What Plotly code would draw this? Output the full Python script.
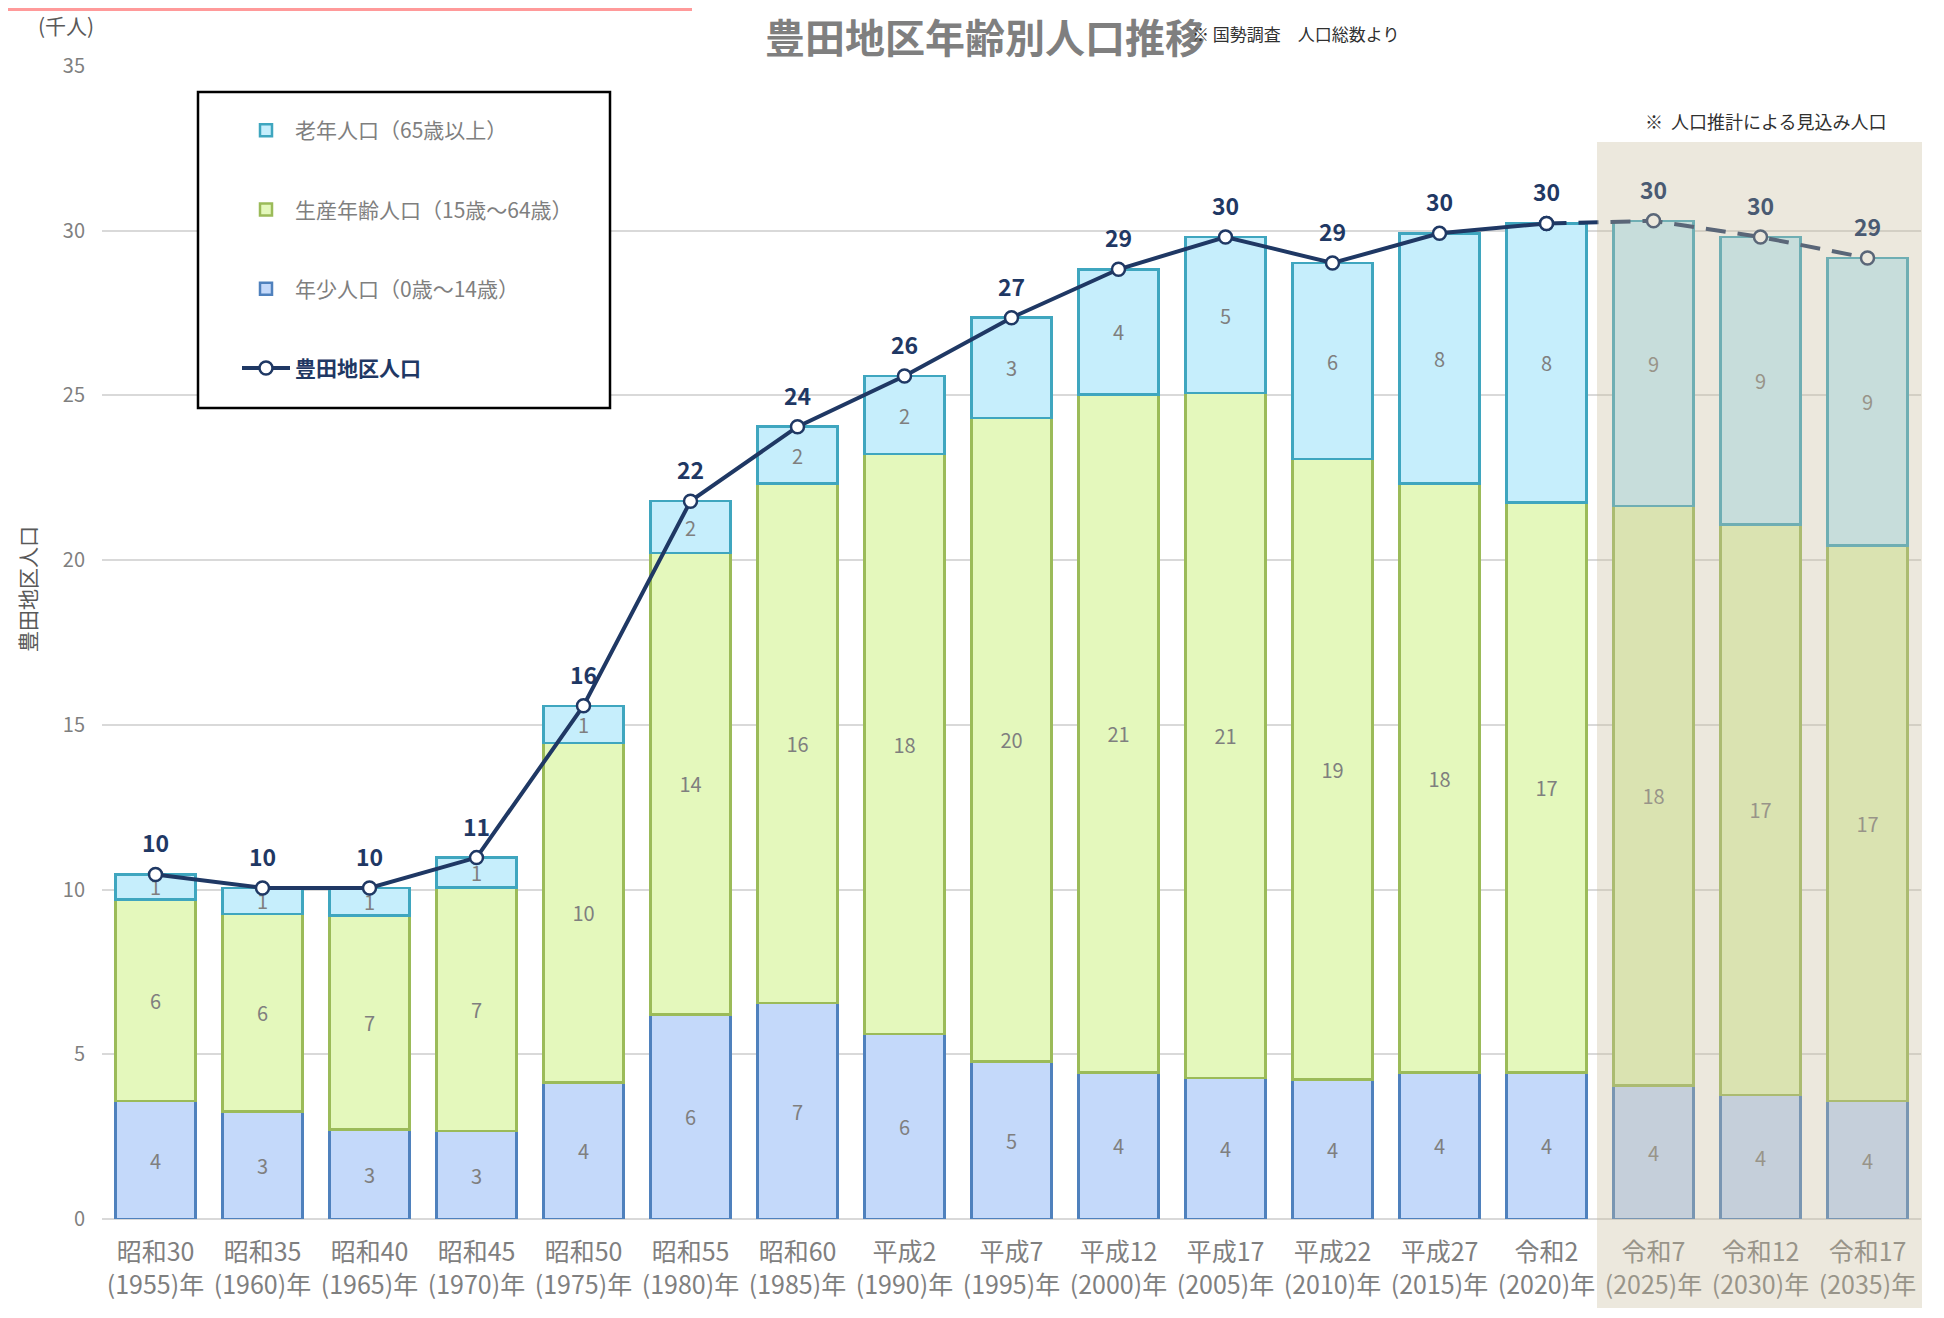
import plotly.graph_objects as go

# 豊田地区 年齢別人口（千人）
categories = [
    "昭和30<br>(1955)年", "昭和35<br>(1960)年", "昭和40<br>(1965)年", "昭和45<br>(1970)年",
    "昭和50<br>(1975)年", "昭和55<br>(1980)年", "昭和60<br>(1985)年", "平成2<br>(1990)年",
    "平成7<br>(1995)年", "平成12<br>(2000)年", "平成17<br>(2005)年", "平成22<br>(2010)年",
    "平成27<br>(2015)年", "令和2<br>(2020)年", "令和7<br>(2025)年", "令和12<br>(2030)年",
    "令和17<br>(2035)年",
]
young = [3.58, 3.27, 2.71, 2.67, 4.14, 6.21, 6.55, 5.61, 4.78, 4.44, 4.28, 4.24, 4.44, 4.44, 4.06, 3.76, 3.58]
working = [6.12, 5.99, 6.51, 7.40, 10.31, 14.00, 15.77, 17.61, 19.53, 20.59, 20.79, 18.83, 17.88, 17.31, 17.58, 17.32, 16.86]
elderly = [0.76, 0.79, 0.83, 0.90, 1.13, 1.58, 1.73, 2.37, 3.05, 3.80, 4.74, 5.95, 7.60, 8.47, 8.66, 8.73, 8.73]
total = [round(a + b + c, 2) for a, b, c in zip(young, working, elderly)]
last_census = 13  # 令和2(2020)まで実績、以降は推計

FONT = "Noto Sans CJK JP"
NAVY = "#1F3864"
GREY = "#7F7F7F"

# ページ余白(8px)を差し引いたサイズ
OFF = 8
W, H = 1944 - 2 * OFF, 1318 - 2 * OFF
L, R, T, B = 94, 15, 58, 91


def px_x(x):
    return (x - OFF - L) / (W - L - R)


def px_y(y):
    return (H - B - (y - OFF)) / (H - T - B)


fig = go.Figure()

bar_style = [
    ("年少人口（0歳～14歳）", young, "#C4D9FA", "#4F81BD", 3),
    ("生産年齢人口（15歳～64歳）", working, "#E4F8BC", "#9BBB59", 2),
    ("老年人口（65歳以上）", elderly, "#C6EEFC", "#3FA6BF", 1),
]
for name, vals, fill, edge, rank in bar_style:
    fig.add_trace(go.Bar(
        x=categories, y=vals, name=name,
        marker=dict(color=fill, line=dict(color=edge, width=2.5)),
        texttemplate="%{y:.0f}", textposition="inside", textangle=0,
        insidetextanchor="middle", constraintext="none",
        textfont=dict(size=20, color=GREY, family=FONT),
        legendgroup=name, legendrank=rank,
    ))

fig.add_trace(go.Scatter(
    x=categories[:last_census + 1], y=total[:last_census + 1],
    name="<b><span style='color:%s'>豊田地区人口</span></b>" % NAVY,
    mode="lines+markers",
    line=dict(color=NAVY, width=4),
    marker=dict(size=13, color="white", line=dict(color=NAVY, width=2.5)),
    legendgroup="total", legendrank=4,
))
fig.add_trace(go.Scatter(
    x=categories[last_census:], y=total[last_census:],
    mode="lines+markers",
    line=dict(color=NAVY, width=4, dash="20px,12px"),
    marker=dict(size=13, color="white", line=dict(color=NAVY, width=2.5)),
    showlegend=False,
))

# 合計ラベル
for i, (c, v) in enumerate(zip(categories, total)):
    fig.add_annotation(x=c, y=v, text=f"<b>{v:.0f}</b>", showarrow=False,
                       yshift=32, yanchor="middle",
                       font=dict(size=23, family=FONT,
                                 color=NAVY if i <= last_census else "#4A5A72"))

# 推計期間の網掛け
fig.add_shape(type="rect", xref="paper", yref="paper",
              x0=px_x(1597), x1=px_x(1922), y0=px_y(1308), y1=px_y(142),
              fillcolor="rgba(201,189,158,0.35)", line=dict(width=0), layer="above")
# 凡例の枠
fig.add_shape(type="rect", xref="paper", yref="paper",
              x0=px_x(198), x1=px_x(610), y0=px_y(408), y1=px_y(92),
              fillcolor="white", line=dict(color="black", width=2.5), layer="above")
# 上部のピンク帯
fig.add_shape(type="rect", xref="paper", yref="paper",
              x0=px_x(8), x1=px_x(692), y0=px_y(11), y1=px_y(8),
              fillcolor="#FF9A9A", line=dict(width=0), layer="above")

fig.add_annotation(text="<b>豊田地区年齢別人口推移</b>", xref="paper", yref="paper",
                   x=px_x(1207), y=px_y(36), xanchor="right", yanchor="middle",
                   showarrow=False, font=dict(size=40, color=GREY, family=FONT))
fig.add_annotation(text="※ 国勢調査　人口総数より", xref="paper", yref="paper",
                   x=px_x(1190), y=px_y(33), xanchor="left", yanchor="middle",
                   showarrow=False, font=dict(size=17, color="#303030", family=FONT))
fig.add_annotation(text="(千人)", xref="paper", yref="paper",
                   x=px_x(66), y=px_y(25), xanchor="center", yanchor="middle",
                   showarrow=False, font=dict(size=21, color="#595959", family=FONT))
fig.add_annotation(text="豊田地区人口", xref="paper", yref="paper", textangle=-90,
                   x=px_x(27), y=px_y(589), xanchor="center", yanchor="middle",
                   showarrow=False, font=dict(size=21, color="#595959", family=FONT))
fig.add_annotation(text="※  人口推計による見込み人口", xref="paper", yref="paper",
                   x=px_x(1766), y=px_y(121), xanchor="center", yanchor="middle",
                   showarrow=False, font=dict(size=18, color="#303030", family=FONT))

fig.update_layout(
    width=W, height=H,
    barmode="stack", bargap=0.25,
    paper_bgcolor="white", plot_bgcolor="white",
    font=dict(family=FONT, color=GREY),
    margin=dict(l=L, r=R, t=T, b=B),
    xaxis=dict(range=[-0.5, 16.5], showgrid=False, ticks="", automargin=False,
               tickfont=dict(size=25, color=GREY, family=FONT),
               ticklabelstandoff=16),
    yaxis=dict(range=[0, 35], dtick=5, showgrid=True, gridcolor="#D9D9D9",
               gridwidth=2, zeroline=True, zerolinecolor="#D9D9D9", zerolinewidth=2,
               tickfont=dict(size=20, color=GREY, family=FONT),
               ticklabelstandoff=16, automargin=False),
    legend=dict(x=px_x(237), y=px_y(110), xanchor="left", yanchor="top",
                bgcolor="rgba(0,0,0,0)", borderwidth=0,
                font=dict(size=21, color=GREY, family=FONT),
                traceorder="grouped", tracegroupgap=49, itemwidth=48),
    showlegend=True,
)

fig.write_html("out.html")
